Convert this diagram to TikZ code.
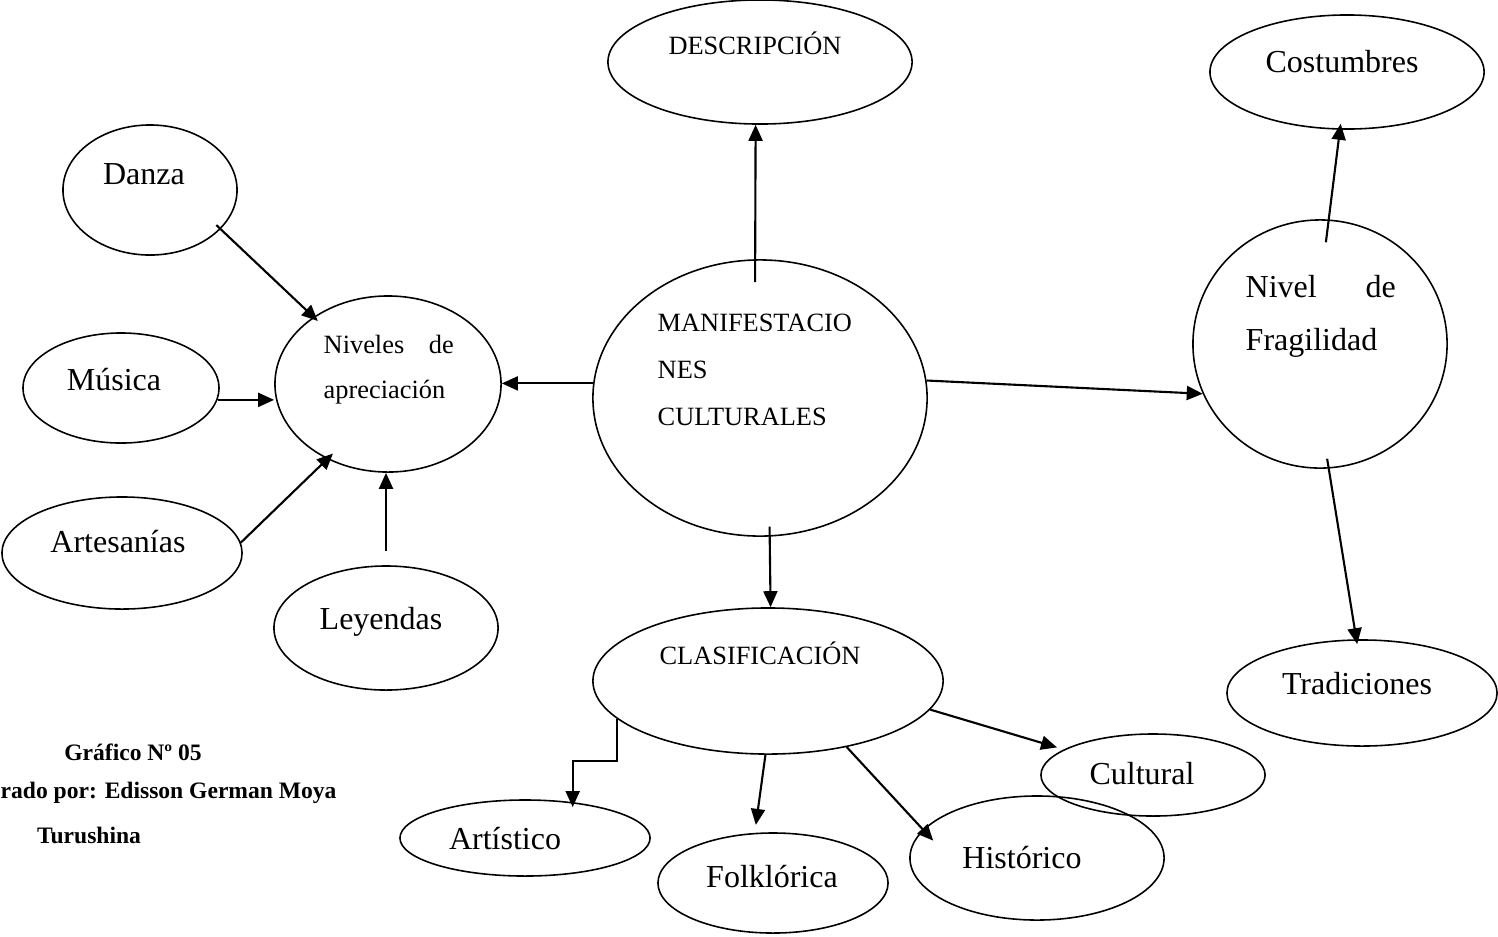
\documentclass[tikz,border=0pt]{standalone}
\usepackage{fontspec}
\setmainfont{Liberation Serif}
\usetikzlibrary{shapes.geometric,arrows.meta,calc}

\begin{document}
\begin{tikzpicture}[x=0.01cm,y=-0.01cm,
        oval/.style={draw,ellipse,line width=0.45pt,inner sep=0pt},
        big/.style={font=\fontsize{9.1}{11}\selectfont,inner sep=0pt},
        small/.style={font=\fontsize{7.5}{9}\selectfont,inner sep=0pt},
        capt/.style={font=\fontsize{6.7}{8}\selectfont\bfseries,inner sep=0pt},
        arr/.style={-{Triangle[length=1.6mm,width=1.4mm]},line width=0.6pt}]
        \useasboundingbox (0,0) rectangle (1498,936);
        % ellipses
        \node[oval,minimum width=3.04cm,minimum height=1.24cm] (desc) at (760,62) {};
        \node[oval,minimum width=2.74cm,minimum height=1.14cm] (cost) at (1347,72) {};
        \node[oval,minimum width=1.74cm,minimum height=1.30cm] (danza) at (150,190) {};
        \node[oval,minimum width=2.26cm,minimum height=1.76cm] (niv) at (388,384) {};
        \node[oval,minimum width=1.96cm,minimum height=1.10cm] (musica) at (121,388) {};
        \node[oval,minimum width=2.40cm,minimum height=1.12cm] (artes) at (122,553) {};
        \node[oval,minimum width=2.24cm,minimum height=1.24cm] (ley) at (386,628) {};
        \node[oval,minimum width=3.34cm,minimum height=2.76cm] (manif) at (760,398) {};
        \node[oval,minimum width=2.54cm,minimum height=2.48cm] (frag) at (1320,344) {};
        \node[oval,minimum width=3.50cm,minimum height=1.46cm] (clas) at (768,681) {};
        \node[oval,minimum width=2.70cm,minimum height=1.06cm] (trad) at (1362,693) {};
        \node[oval,minimum width=2.24cm,minimum height=0.82cm] (cult) at (1153,775) {};
        \node[oval,minimum width=2.50cm,minimum height=0.76cm] (art) at (525,838) {};
        \node[oval,minimum width=2.30cm,minimum height=1.00cm] (folk) at (773,883) {};
        \node[oval,minimum width=2.54cm,minimum height=1.24cm] (hist) at (1037,858) {};
        % texts
        \node[small] (desc-t) at (755,43) {DESCRIPCIÓN};
        \node[big] (cost-t) at (1342,62) {Costumbres};
        \node[big] (danza-t) at (144,174) {Danza};
        \node[small,anchor=west,align=left,font=\fontsize{7.5}{12.8}\selectfont] (niv-t) at (323,370)
            {\makebox[1.30cm][s]{Niveles\hfill de}\\apreciación};
        \node[big] (musica-t) at (114,380) {Música};
        \node[big] (artes-t) at (118,542) {Artesanías};
        \node[big] (ley-t) at (381,622) {Leyendas};
        \node[small,anchor=west,align=left,font=\fontsize{7.5}{13.4}\selectfont] (manif-t) at (657,370)
            {MANIFESTACIO\\NES\\CULTURALES};
        \node[big,anchor=west,align=left,font=\fontsize{9.1}{15}\selectfont] (frag-t) at (1245,316)
            {\makebox[1.50cm][s]{Nivel\hfill de}\\Fragilidad};
        \node[small] (clas-t) at (760,653) {CLASIFICACIÓN};
        \node[big] (trad-t) at (1357,684) {Tradiciones};
        \node[big] (cult-t) at (1142,774) {Cultural};
        \node[big] (art-t) at (505,839) {Artístico};
        \node[big] (folk-t) at (772,877) {Folklórica};
        \node[big] (hist-t) at (1022,858) {Histórico};
        % caption
        \node[capt] (graf) at (133,752) {Gráfico Nº 05};
        \node[capt,anchor=west] (elab) at (0,793) {rado por: Edisson German Moya};
        \node[capt] (autor) at (89,835) {Turushina};
        % arrows
        \draw[arr,shorten <=-2.3mm] (manif.92) -- (desc.-94);
        \draw[arr,shorten <=-2.3mm,shorten >=-0.6mm] (frag.86) -- (cost.-97);
        \draw[arr,shorten <=-1mm,shorten >=-0.5mm] (frag.-86) -- (trad.96);
        \draw[arr,shorten <=-0.6mm,shorten >=-0.6mm] (danza.-29) -- (niv.138);
        \draw[arr] (musica.-7) -- (musica.-7 -| niv.west);
        \draw[arr,shorten >=-0.8mm] (artes.5) -- (niv.231);
        \draw[arr,shorten <=1.4mm] (ley.north) -- (ley.north |- niv.south);
        \draw[arr] (manif.175) -- (manif.175 -| niv.east);
        \draw[arr] (manif.6) -- (frag.203);
        \draw[arr,shorten <=-1mm] (manif.-86) -- (clas.88);
        \draw[arr,shorten >=-0.5mm] (clas.194) -- ++(0,42) -| (art.37);
        \draw[arr,shorten >=0.8mm] (clas.-92) -- (folk.110);
        \draw[arr,shorten >=-1.5mm] (clas.-40) -- (hist.166);
        \draw[arr,shorten >=0.7mm] (clas.-10) -- (cult.164);
\end{tikzpicture}
\end{document}
